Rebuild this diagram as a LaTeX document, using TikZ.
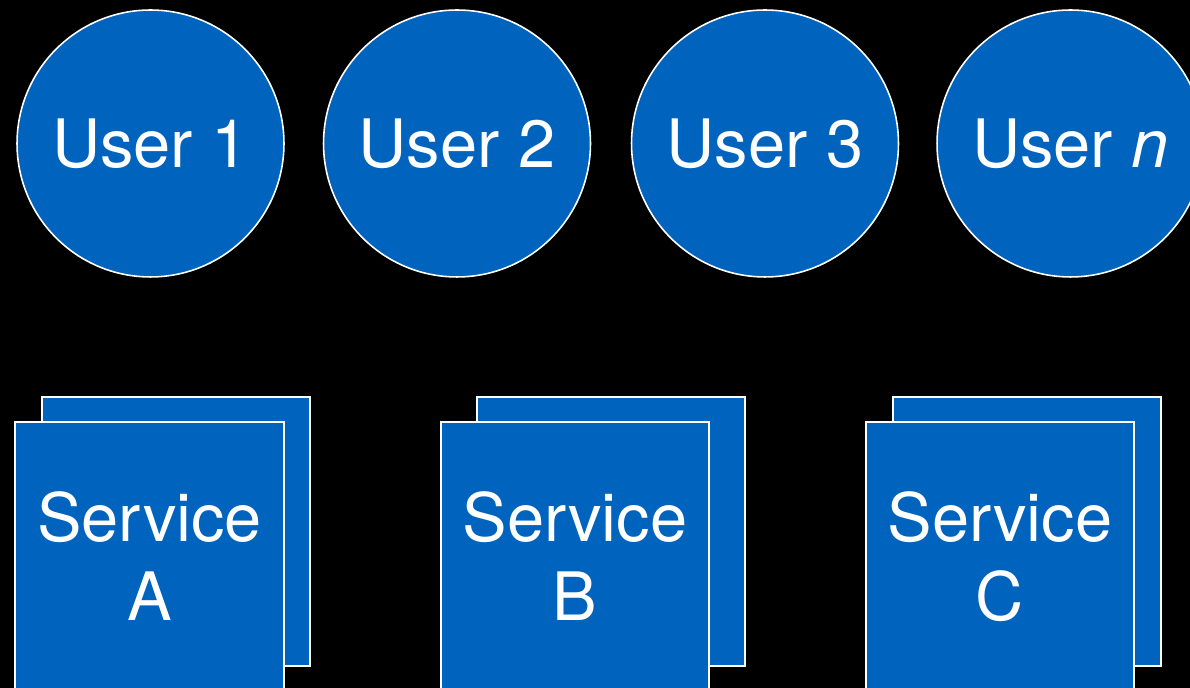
\documentclass[tikz,border=0pt]{standalone}
\usepackage{fontspec}
\setmainfont{TeX Gyre Heros}
\usepackage{xcolor}
\definecolor{keyblue}{RGB}{0,99,190}

\begin{document}
\begin{tikzpicture}[x=0.02cm,y=-0.02cm,
        user/.style={circle,fill=keyblue,draw=white,line width=0.9pt,minimum size=5.34cm,inner sep=0pt,text=white,font=\fontsize{38}{45}\selectfont},
        service/.style={rectangle,fill=keyblue,draw=white,line width=0.9pt,minimum width=5.37cm,minimum height=5.38cm,inner sep=0pt,text=white,align=center,font=\fontsize{38}{45}\selectfont}]
                        \path[use as bounding box] (0,0) rectangle (1190,688);
                        \clip (0,0) rectangle (1190,688);
                        \fill[black] (0,0) rectangle (1190,688);

                        % users along the top
                        \node (u1) at (150.5,143.5) [user] {User 1};
                        \node (u2) at (457,143.5) [user] {User 2};
                        \node (u3) at (765,143.5) [user] {User 3};
                        \node (un) at (1070.5,143.5) [user] {User \textit{n}};

                        % services, each with a second copy behind it
                        \node (ab) at (176,531.5) [service] {};
                        \node (a) at (149.5,556.5) [service] {Service\\A};
                        \node (bb) at (611,531.5) [service] {};
                        \node (b) at (575,556.5) [service] {Service\\B};
                        \node (cb) at (1027,531.5) [service] {};
                        \node (c) at (1000,556.5) [service] {Service\\C};
                    \end{tikzpicture}
\end{document}
